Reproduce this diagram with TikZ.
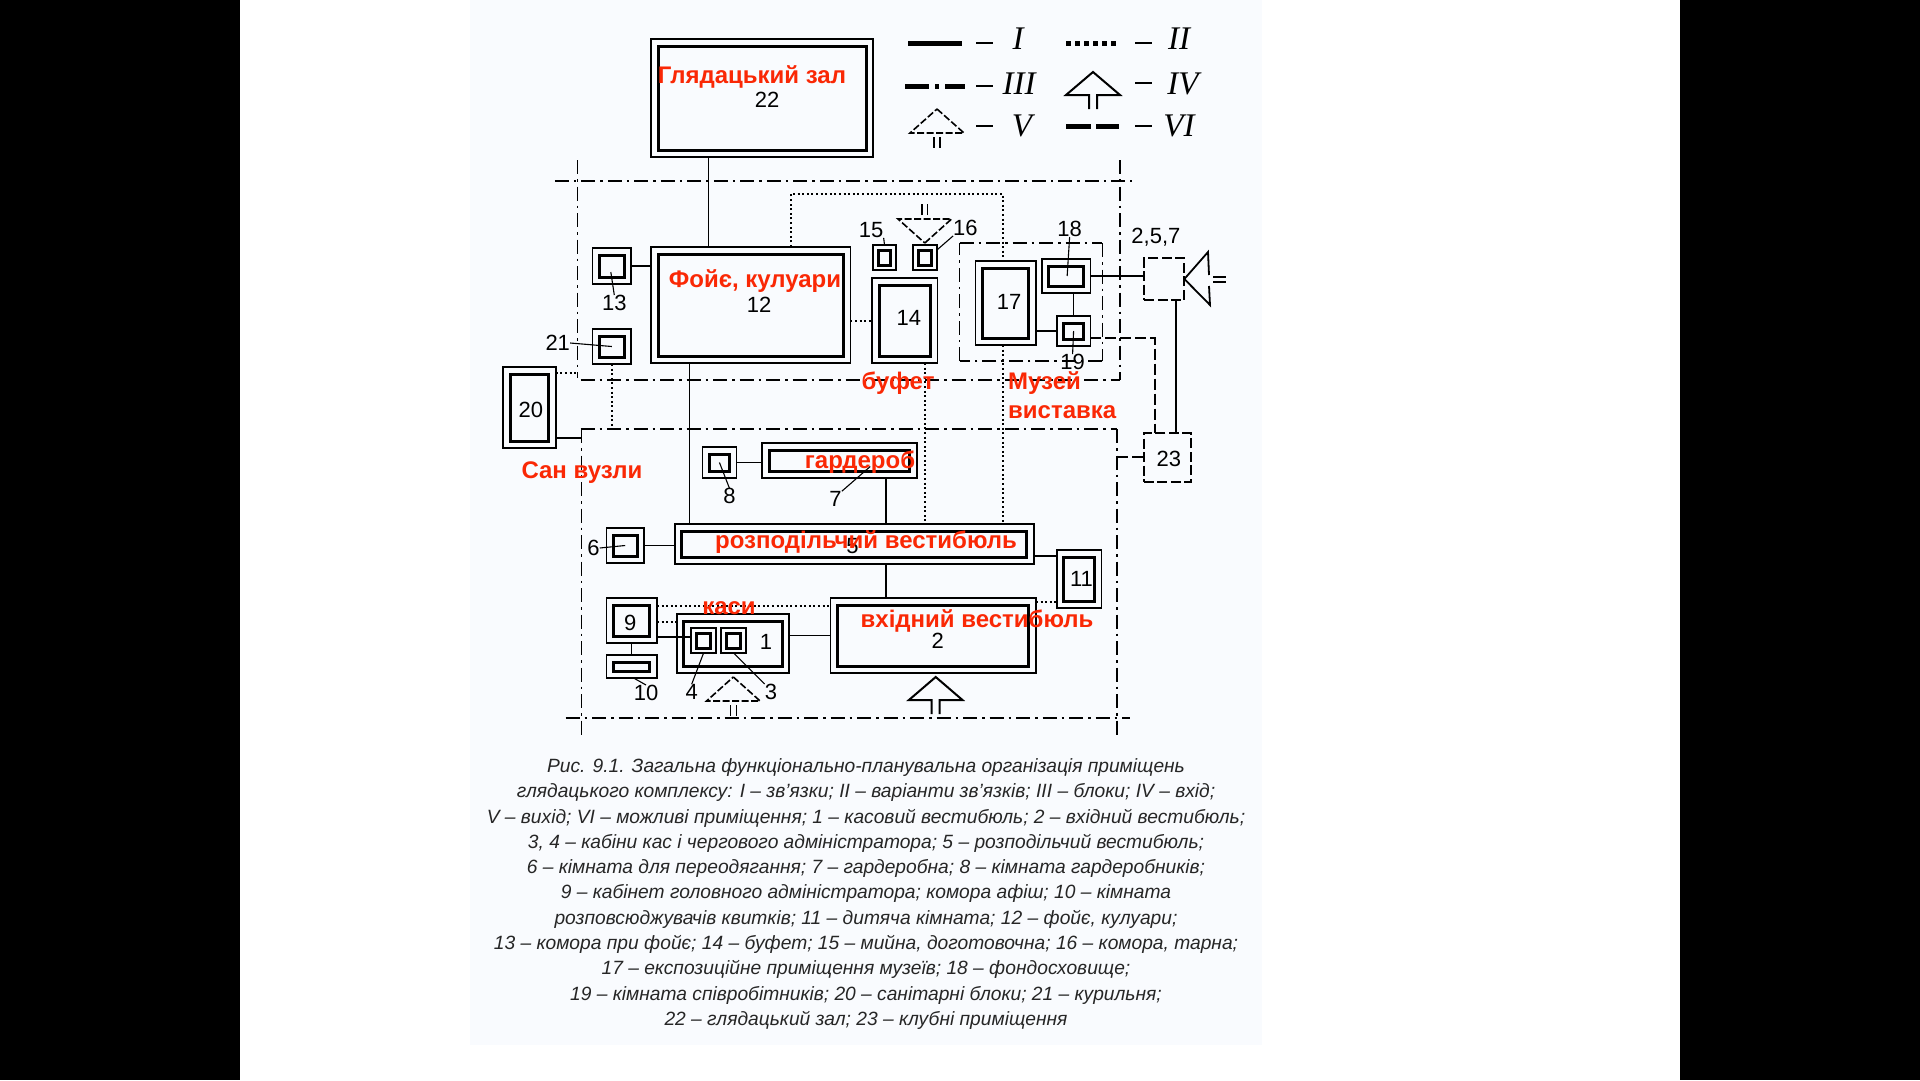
\documentclass[tikz,border=0pt]{standalone}
\usepackage{fontspec}
\setmainfont{Liberation Sans}
\newfontfamily\romanfont{Liberation Serif}
\usetikzlibrary{arrows.meta}
\definecolor{pagetint}{RGB}{249,251,254}
\definecolor{labelred}{RGB}{250,40,5}
\tikzset{
    outerroom/.style = {draw, line width=1.6pt, inner sep=0pt, outer sep=0pt},
    innerroom/.style = {draw, line width=3pt, inner sep=0pt, outer sep=0pt},
    maybebox/.style = {draw, line width=2.2pt, dash pattern=on 10pt off 3.5pt, inner sep=0pt, outer sep=0pt},
    linkline/.style = {line width=1.6pt},
    variantline/.style = {line width=2pt, dash pattern=on 2pt off 2.6pt},
    maybeline/.style = {line width=2pt, dash pattern=on 11pt off 4pt},
    blockline/.style = {line width=1.7pt, dash pattern=on 14pt off 5pt on 2.5pt off 5pt},
    leader/.style = {line width=1.1pt},
    number/.style = {font=\fontsize{22}{24}\selectfont, inner sep=0pt},
    redlabel/.style = {font=\fontsize{24}{26}\selectfont\bfseries, text=labelred, inner sep=0pt},
    romanlabel/.style = {font=\romanfont\itshape\fontsize{33}{34}\selectfont, inner sep=0pt},
    entrysign/.pic = {
        \draw[line width=2pt] (-4,37) -- (-4,23) -- (-27,23) -- (0,0) -- (27,23) -- (4,23) -- (4,37);
    },
    exitsign/.pic = {
        \draw[line width=1.6pt, dash pattern=on 7pt off 2.5pt] (0,0) -- (27,24) -- (-27,24) -- cycle;
        \draw[line width=1.4pt] (-3,28) -- (-3,39) (3,28) -- (3,39);
    },
}
% [inset], name, centre x, centre y, width, height
\newcommand{\room}[6][7]{
    \node[outerroom, minimum width=0.992*#5pt, minimum height=#6pt] (#2) at (#3,#4) {};
    \node[innerroom, minimum width=0.992*#5pt-2*#1pt, minimum height=#6pt-2*#1pt] at (#2) {};
}
\begin{document}
\begin{tikzpicture}[x=1pt, y=-1pt]
    \useasboundingbox (0,0) rectangle (1920,1080);
    \fill[white] (0,0) rectangle (1920,1080);
    \fill[pagetint] (470,0) rectangle (1262,1045);
    \fill[black] (0,0) rectangle (240,1080);
    \fill[black] (1680,0) rectangle (1920,1080);

    \begin{scope}[x=0.992pt, xshift=5.2pt]
    % blocks
    \foreach \xa/\ya/\xb/\yb in {554/181/1136/181, 577/160/577/378, 1124/160/1124/380, 580/380/1124/380,
        580/429/1121/429, 581/429/581/735, 1121/429/1121/735, 565/718/1134/718, 962/243/1106/243,
        1106/243/1106/361, 1106/361/962/361, 962/361/962/243}
        \draw[blockline] (\xa,\ya) -- (\xb,\yb);

    % rooms
    \room{hall}{763}{98}{224}{118}
    \room{foyer}{751.5}{305}{201}{116}
    \room{store}{611.5}{266}{39}{36}
    \room{smoke}{611.5}{346.5}{39}{35}
    \room{buffet}{907}{320.5}{66}{85}
    \room[5]{wash}{886.4}{257.5}{23}{25}
    \room[5]{tara}{927.2}{257.5}{24}{25}
    \room{museum}{1008.5}{303}{61}{84}
    \room{fund}{1069.5}{276}{49}{34}
    \room{staff}{1077}{331}{34}{30}
    \room{sanit}{528.5}{407.5}{53}{81}
    \room{cloak}{841}{460.5}{156}{35}
    \room{cloakstaff}{720}{462.5}{34}{31}
    \room{distrib}{856}{544}{362}{40}
    \room{change}{625}{545.5}{38}{35}
    \room{child}{1082.5}{579}{45}{58}
    \room{entry}{935.5}{635.5}{207}{75}
    \room{cash}{733.7}{643.5}{113}{59}
    \room{chief}{631.5}{620.5}{51}{45}
    \room{tickets}{631.5}{666.5}{51}{23}
    \room[5]{admin}{704}{640.5}{25}{25}
    \room[5]{booth}{734.2}{640.5}{25}{25}

    \node[maybebox, minimum width=40pt, minimum height=42pt] (club) at (1168.5,279) {};
    \node[maybebox, minimum width=47pt, minimum height=49pt] (clubs) at (1171.5,457.5) {};

    % helper x and y positions for the links
    \coordinate (hallX) at (709,0);
    \coordinate (foyerX) at (690,0);
    \coordinate (cloakX) at (888,0);
    \coordinate (dotX) at (792,0);
    \coordinate (dotY) at (0,194);
    \coordinate (museX) at (1006,0);
    \coordinate (smokeX) at (612,0);
    \coordinate (busY) at (0,606);
    \coordinate (gapY) at (0,602);
    \coordinate (lowY) at (0,622);
    \coordinate (adminY) at (0,637);
    \coordinate (sanitTop) at (577,373);
    \coordinate (sanitLow) at (581,438);
    \coordinate (smokeEnd) at (612,429);
    \coordinate (clubX) at (1180,0);
    \coordinate (staffY) at (0,338);
    \coordinate (clubsX) at (1159,0);
    \coordinate (blockGap) at (1121,457);

    % links
    \draw[linkline] (hall.south -| hallX) -- (foyer.north -| hallX);
    \draw[linkline] (store.east) -- (store.east -| foyer.west);
    \draw[linkline] (foyer.south -| foyerX) -- (distrib.north -| foyerX);
    \draw[linkline] (cloakstaff.east) -- (cloakstaff.east -| cloak.west);
    \draw[linkline] (cloak.south -| cloakX) -- (distrib.north -| cloakX);
    \draw[linkline] (change.east) -- (change.east -| distrib.west);
    \draw[linkline] (distrib.south -| cloakX) -- (entry.north -| cloakX);
    \draw[linkline] ([yshift=-12pt]distrib.east) -- ([yshift=23pt]child.west);
    \draw[linkline] (cash.east |- entry.west) -- (entry.west);
    \draw[linkline] (chief.east |- adminY) -- (admin.west |- adminY);
    \draw[linkline] (chief.south) -- (tickets.north);
    \draw[linkline] (sanit.east |- sanitLow) -- (sanitLow);
    \draw[linkline] (fund.south -| staff.north) -- (staff.north);
    \draw[linkline] (museum.east |- staff.west) -- (staff.west);
    \draw[linkline] (fund.east) -- (fund.east -| club.west);
    \draw[linkline] (club.south -| clubX) -- (clubs.north -| clubX);

    % variants of links
    \draw[variantline] (foyer.north -| dotX) -- (dotX |- dotY) -- (museX |- dotY) -- (museum.north -| museX);
    \draw[variantline] (museum.south -| museX) -- (distrib.north -| museX);
    \draw[variantline] (foyer.east |- buffet.west) -- (buffet.west);
    \draw[variantline] (buffet.south -| tara) -- (distrib.north -| tara);
    \draw[variantline] (smoke.south -| smokeX) -- (smokeEnd);
    \draw[variantline] (sanit.east |- sanitTop) -- (sanitTop);
    \draw[variantline] (chief.east |- busY) -- (entry.west |- busY);
    \draw[variantline] (chief.east |- lowY) -- (cash.west |- lowY);
    \draw[variantline] (entry.east |- gapY) -- (child.west |- gapY);

    % possible rooms
    \draw[maybeline] (staff.east |- staffY) -- (clubsX |- staffY) -- (clubs.north -| clubsX);
    \draw[maybeline] (blockGap) -- (clubs.west |- blockGap);

    % entrance and exits
    \pic at (938,677) {entrysign};
    \pic at (734,677) {exitsign};
    \pic[yscale=-1] at (927,243) {exitsign};

    % numbers
    \node[number] (n22) at (768,100) {22};
    \node[number] (n12) at (760,305) {12};
    \node[number] (n13) at (614,303) {13};
    \node[number] (n21) at (557,343) {21};
    \node[number] (n14) at (911,318) {14};
    \node[number] (n15) at (873,230) {15};
    \node[number] (n16) at (968,228) {16};
    \node[number] (n17) at (1012,302) {17};
    \node[number] (n18) at (1073,229) {18};
    \node[number] (n19) at (1076,362) {19};
    \node[number] (n257) at (1160,237) {2,5,7};
    \node[number] (n20) at (530,410) {20};
    \node[number] (n23) at (1173,459) {23};
    \node[number] (n8) at (730,496) {8};
    \node[number] (n7) at (837,499) {7};
    \node[number] (n6) at (593,548) {6};
    \node[number] (n5) at (854,546) {5};
    \node[number] (n11) at (1085,579) {11};
    \node[number] (n9) at (630,623) {9};
    \node[number] (n1) at (767,642) {1};
    \node[number] (n2) at (940,641) {2};
    \node[number] (n10) at (646,693) {10};
    \node[number] (n4) at (692,692) {4};
    \node[number] (n3) at (772,692) {3};

    % leaders from numbers to rooms
    \draw[leader] (n13.north) -- ([shift={(-1,6)}]store.center);
    \draw[leader] (n21.east) -- (smoke.center);
    \draw[leader] (n15.south east) -- (wash.north);
    \draw[leader] (n16.south west) -- ([yshift=-5pt]tara.north east);
    \draw[leader] (n18.south) -- ([xshift=1pt]fund.center);
    \draw[leader] (n19.north) -- (staff.center);
    \draw[leader] (n8.north) -- (cloakstaff.center);
    \draw[leader] (n7.north east) -- ([shift={(31,6)}]cloak.center);
    \draw[leader] (n6.east) -- (change.center);
    \draw[leader] (n10.north) -- ([xshift=2pt]tickets.south);
    \draw[leader] (n4.north) -- (admin.south);
    \draw[leader] (n3.north west) -- (booth.south);
    \end{scope}

    % loudspeaker on the dashed room
    \coordinate (hornTop) at (1208,252);
    \coordinate (hornLow) at (1210,305);
    \draw[line width=1.8pt] (1209,275) -- (hornTop) -- (club.east) -- (hornLow) -- (1209,286);
    \draw[line width=1.8pt] (1213,277) -- (1226,277) (1213,282) -- (1226,282);

    % legend
    \draw[line width=5pt] (908,43) -- (962,43);
    \draw[line width=5pt, dash pattern=on 5pt off 4pt] (1066,43) -- (1119,43);
    \draw[line width=5pt, dash pattern=on 24pt off 6pt on 4pt off 6pt] (905,86) -- (965,86);
    \draw[line width=5pt, dash pattern=on 25pt off 5pt] (1066,126) -- (1119,126);
    \pic at (1093,72) {entrysign};
    \pic at (937,109) {exitsign};
    \foreach \x/\y in {976/43, 1135/43, 976/86, 1135/83, 976/126, 1135/126}
        \draw[line width=1.6pt] (\x,\y) -- (\x+17,\y);
    \node[romanlabel] (keyI) at (1018,39) {I};
    \node[romanlabel] (keyII) at (1179,39) {II};
    \node[romanlabel] (keyIII) at (1019,84) {III};
    \node[romanlabel] (keyIV) at (1183,84) {IV};
    \node[romanlabel] (keyV) at (1022,126) {V};
    \node[romanlabel] (keyVI) at (1179,126) {VI};

    % red names
    \node[redlabel] (tHall) at (752,77) {Глядацький зал};
    \node[redlabel] (tFoyer) at (755,281) {Фойє, кулуари};
    \node[redlabel] (tBuffet) at (898,383) {буфет};
    \node[redlabel, anchor=west] (tMuseum) at (1008,383) {Музей};
    \node[redlabel, anchor=west] (tShow) at (1008,412) {виставка};
    \node[redlabel] (tSan) at (582,473) {Сан вузли};
    \node[redlabel] (tCloak) at (860,462) {гардероб};
    \node[redlabel] (tDistrib) at (866,542) {розподільчий вестибюль};
    \node[redlabel] (tCash) at (729,608) {каси};
    \node[redlabel] (tEntry) at (977,621) {вхідний вестибюль};

    % caption
    \node[font=\itshape\fontsize{19.2}{25.3}\selectfont, align=center, inner sep=0pt, text=black!85] (caption) at (866,894) {
        Рис. 9.1. Загальна функціонально-планувальна організація приміщень\\
        глядацького комплексу: I – зв’язки; II – варіанти зв’язків; III – блоки; IV – вхід;\\
        V – вихід; VI – можливі приміщення; 1 – касовий вестибюль; 2 – вхідний вестибюль;\\
        3, 4 – кабіни кас і чергового адміністратора; 5 – розподільчий вестибюль;\\
        6 – кімната для переодягання; 7 – гардеробна; 8 – кімната гардеробників;\\
        9 – кабінет головного адміністратора; комора афіш; 10 – кімната\\
        розповсюджувачів квитків; 11 – дитяча кімната; 12 – фойє, кулуари;\\
        13 – комора при фойє; 14 – буфет; 15 – мийна, доготовочна; 16 – комора, тарна;\\
        17 – експозиційне приміщення музеїв; 18 – фондосховище;\\
        19 – кімната співробітників; 20 – санітарні блоки; 21 – курильня;\\
        22 – глядацький зал; 23 – клубні приміщення
    };
\end{tikzpicture}
\end{document}
